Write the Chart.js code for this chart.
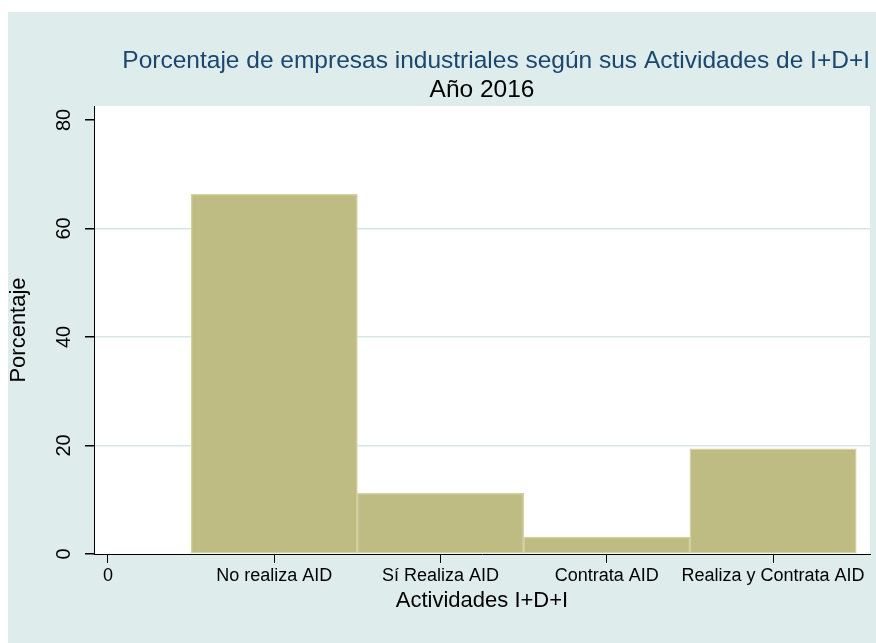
<!DOCTYPE html>
<html>
<head>
<meta charset="utf-8">
<title>Actividades I+D+I</title>
<script src="https://cdn.jsdelivr.net/npm/chart.js@4/dist/chart.umd.min.js"></script>
<style>
  html, body { margin: 0; padding: 0; background: #ffffff; }
  #wrap { width: 876px; height: 643px; }
</style>
</head>
<body>
<div id="wrap"><canvas id="histChart" width="876" height="643"></canvas></div>
<script>
// x tick labels (position 0..4)
const categories = ['0', 'No realiza AID', 'Sí Realiza AID', 'Contrata AID', 'Realiza y Contrata AID'];
const xTicks = [0, 1, 2, 3, 4];
// bar positions and heights (percent)
const barPositions = [1, 2, 3, 4];
const percentages = [66.3, 11.2, 3.1, 19.4];
// y axis
const yTicks = [0, 20, 40, 60, 80];
const yGridLines = [20, 40, 60];

const fontFamily = '"Liberation Sans", Arial, Helvetica, sans-serif';

// panel + white plot region behind everything
const backgroundPlugin = {
    id: 'stataBackground',
    beforeDraw(chart) {
        const { ctx, chartArea } = chart;
        ctx.save();
        ctx.fillStyle = '#ffffff';
        ctx.fillRect(0, 0, chart.width, chart.height);
        ctx.fillStyle = '#dfecec';
        ctx.fillRect(8, 12, chart.width - 8, chart.height - 12);
        ctx.fillStyle = '#ffffff';
        ctx.fillRect(chartArea.left, chartArea.top, chartArea.right - chartArea.left, chartArea.bottom - chartArea.top);
        ctx.restore();
    }
};

const ctx = document.getElementById('histChart').getContext('2d');
new Chart(ctx, {
    type: 'bar',
    data: {
        datasets: [{
            data: barPositions.map((x, i) => ({ x: x, y: percentages[i] })),
            backgroundColor: '#bebc82',
            borderColor: '#d3d1a2',
            borderWidth: 1.5,
            borderSkipped: false,
            barPercentage: 1,
            categoryPercentage: 1
        }]
    },
    options: {
        responsive: false,
        animation: false,
        layout: { padding: { top: 12, left: 0, right: 6, bottom: 0 } },
        plugins: {
            legend: { display: false },
            tooltip: { enabled: false },
            title: {
                display: true,
                text: 'Porcentaje de empresas industriales según sus Actividades de I+D+I',
                color: '#1a476f',
                align: 'end',
                fullSize: false,
                font: { family: fontFamily, size: 24.5, weight: 'normal' },
                padding: { top: 34.6, bottom: 0 }
            },
            subtitle: {
                display: true,
                text: 'Año 2016',
                color: '#000000',
                align: 'center',
                fullSize: false,
                font: { family: fontFamily, size: 24.5, weight: 'normal' },
                padding: { top: 0, bottom: 0.6 }
            }
        },
        scales: {
            x: {
                type: 'linear',
                offset: false,
                min: -0.084,
                max: 4.583,
                afterBuildTicks: axis => { axis.ticks = xTicks.map(v => ({ value: v })); },
                afterFit: axis => { axis.height = 89; },
                grid: {
                    offset: false,
                    drawOnChartArea: false,
                    drawTicks: true,
                    tickLength: 9,
                    tickColor: '#000000'
                },
                border: { display: true, color: '#000000', width: 1 },
                ticks: {
                    autoSkip: false,
                    maxRotation: 0,
                    minRotation: 0,
                    padding: 2,
                    color: '#000000',
                    font: { family: fontFamily, size: 18 },
                    callback: value => categories[value]
                },
                title: {
                    display: true,
                    text: 'Actividades I+D+I',
                    color: '#000000',
                    font: { family: fontFamily, size: 22 },
                    padding: { top: 0, bottom: 28.8 }
                }
            },
            y: {
                type: 'linear',
                min: 0,
                max: 82.58,
                afterBuildTicks: axis => { axis.ticks = yTicks.map(v => ({ value: v })); },
                afterFit: axis => { axis.width = 94; },
                grid: {
                    drawOnChartArea: true,
                    drawTicks: true,
                    tickLength: 9,
                    tickColor: '#000000',
                    lineWidth: 1.5,
                    color: c => (c.tick && yGridLines.includes(c.tick.value)) ? '#d6e7e7' : 'rgba(0,0,0,0)'
                },
                border: { display: true, color: '#000000', width: 1 },
                ticks: {
                    minRotation: 90,
                    maxRotation: 90,
                    crossAlign: 'center',
                    padding: 9,
                    color: '#000000',
                    font: { family: fontFamily, size: 20 },
                    callback: value => String(value)
                },
                title: {
                    display: true,
                    text: 'Porcentaje',
                    color: '#000000',
                    font: { family: fontFamily, size: 22 },
                    padding: { top: 6, bottom: 0 }
                }
            }
        }
    },
    plugins: [backgroundPlugin]
});
</script>
</body>
</html>
